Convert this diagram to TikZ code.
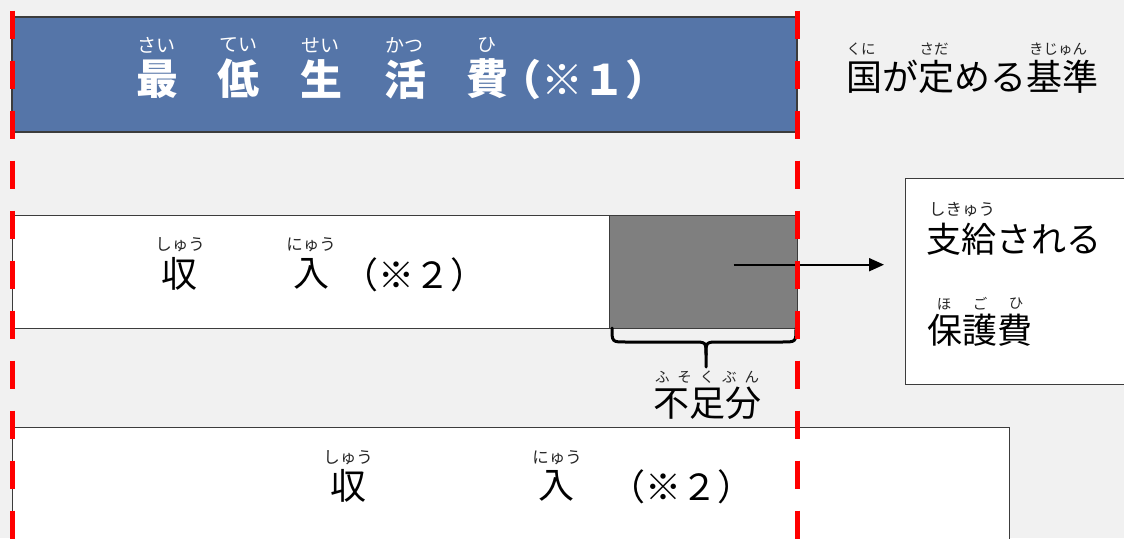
\documentclass[tikz,border=0pt]{standalone}
\usepackage{fontspec}
\newfontfamily\jp{Noto Sans CJK JP}
\usetikzlibrary{arrows.meta,calc}
\definecolor{bg}{RGB}{241,241,241}
\definecolor{titleblue}{RGB}{85,117,168}
\definecolor{redline}{RGB}{255,0,0}
\definecolor{shade}{RGB}{127,127,127}
\definecolor{edge}{RGB}{60,60,60}
\begin{document}
\begin{tikzpicture}[x=1pt,y=-1pt,
  bar/.style={draw=edge, line width=1.4pt},
  kanji/.style={font=\jp\fontsize{36}{36}\selectfont, inner sep=0pt, text=black},
  side/.style={font=\jp\fontsize{35}{35}\selectfont, inner sep=0pt, text=black},
  ttl/.style={font=\jp\bfseries\fontsize{42}{42}\selectfont, text=white, inner sep=0pt},
  ruby/.style={font=\jp\fontsize{14.5}{14.5}\selectfont, inner sep=0pt, text=black!85},
  rubyb/.style={font=\jp\fontsize{16.5}{16.5}\selectfont, inner sep=0pt, text=black!85},
  truby/.style={font=\jp\fontsize{19}{19}\selectfont, inner sep=0pt, text=white},
  redguide/.style={draw=redline, line width=5pt, dash pattern=on 28.6pt off 21.4pt},
  bracepath/.style={draw=black, line width=3pt, line cap=round, line join=round},
  arr/.style={draw=black, line width=2pt, -{Triangle[length=15pt,width=13pt]}}
]
\fill[bg] (0,0) rectangle (1124,538);
\useasboundingbox (0,0) rectangle (1124,538);

% boxes
\draw[bar, fill=titleblue] (12,17) rectangle (797,132);
\node[bar, fill=white, minimum width=597pt, minimum height=113pt, anchor=north west, inner sep=0pt] (inc) at (12,215) {};
\node[bar, fill=shade, minimum width=188pt, minimum height=113pt, anchor=north west, inner sep=0pt] (gap) at (609,215) {};
\node[bar, fill=white, minimum width=997pt, minimum height=130pt, anchor=north west, inner sep=0pt] (inc2) at (12,427) {};
\node[bar, fill=white, minimum width=225pt, minimum height=206pt, anchor=north west, inner sep=0pt] (rbox) at (905,178) {};

% title
\node[ttl] (t1) at (157,79) {最};
\node[ttl] (t2) at (238,79) {低};
\node[ttl] (t3) at (321,79) {生};
\node[ttl] (t4) at (405,79) {活};
\node[ttl] (t5) at (487,79) {費};
\node[ttl] (t6) at (583,80) {（※１）};
\node[truby] (r1) at (156,45) {さい};
\node[truby] (r2) at (238,45) {てい};
\node[truby] (r3) at (320,45) {せい};
\node[truby] (r4) at (404,45) {かつ};
\node[truby] (r5) at (487,45) {ひ};

% right label top
\node[kanji] (std) at (972,77) {国が定める基準};
\node[ruby] (s1) at (861,49) {くに};
\node[ruby] (s2) at (934,49) {さだ};
\node[ruby] (s3) at (1058,49) {きじゅん};

% row 2
\node[kanji] (a1) at (179,274) {収};
\node[kanji] (a2) at (311,274) {入};
\node[kanji] (a3) at (414,275) {（※２）};
\node[rubyb] (ar1) at (180,245) {しゅう};
\node[rubyb] (ar2) at (311,245) {にゅう};

% row 3
\node[kanji] (b1) at (348,486) {収};
\node[kanji] (b2) at (556,486) {入};
\node[kanji] (b3) at (681,487) {（※２）};
\node[rubyb] (br1) at (348,458) {しゅう};
\node[rubyb] (br2) at (557,458) {にゅう};

% right box text
\node[side] (p1) at (1014,239) {支給される};
\node[rubyb] (pr1) at (962,210) {しきゅう};
\node[side] (p2) at (980,330) {保護費};
\node[ruby] (pr2) at (944,304) {ほ};
\node[ruby] (pr3) at (980,304) {ご};
\node[ruby] (pr4) at (1016,304) {ひ};

% brace and label
\draw[bracepath] (612,328) .. controls (612,342) .. (626,342) -- (693,342) .. controls (706,342) .. (706,355) -- (706,367);
\draw[bracepath] (796,328) .. controls (796,342) .. (782,342) -- (719,342) .. controls (706,342) .. (706,355);
\node[kanji] (lack) at (707,403) {不足分};
\node[ruby] (lackr) at (707,377) {\makebox[104pt][s]{ふ\hfill そ\hfill く\hfill ぶ\hfill ん}};

% arrow
\coordinate (src) at ($(gap.center)+(30,-7.5)$);
\draw[arr, shorten >=21pt] (src) -- (src -| rbox.west);

% red guides
\draw[redguide] (12,10.7) -- (12,540);
\draw[redguide] (797,10.7) -- (797,540);
\end{tikzpicture}
\end{document}
